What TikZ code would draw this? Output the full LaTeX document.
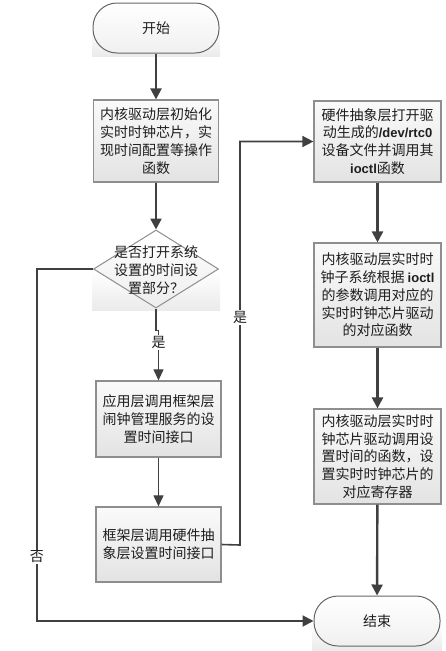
\documentclass[tikz,border=0pt]{standalone}
\usepackage{fontspec}
\newfontfamily\cjk{Noto Sans CJK SC}
\newfontfamily\latb{Liberation Sans}
\usetikzlibrary{shapes.geometric,arrows.meta}
\definecolor{lineC}{HTML}{404040}
\definecolor{borderC}{HTML}{8E8E8E}
\definecolor{txtC}{HTML}{1E1E1E}
\newcommand{\lb}[1]{{\latb\bfseries\fontsize{13}{17.8}\selectfont #1}}
\tikzset{
  basefont/.style={font=\cjk\fontsize{14}{17.8}\selectfont, text=txtC},
  procbox/.style={basefont, draw=borderC, line width=1.2pt, top color=gray!4, bottom color=gray!22,
    minimum width=125pt, inner sep=0pt, align=center},
  termbox/.style={basefont, draw=lineC!80, line width=1pt, top color=white, bottom color=gray!12,
    rounded corners=24pt, minimum width=126pt, minimum height=50pt, inner sep=0pt},
  decbox/.style={diamond, draw=borderC, line width=1pt, top color=white, bottom color=gray!14,
    minimum width=125pt, minimum height=78pt, inner sep=0pt},
  bgshade/.style={top color=white, bottom color=gray!16, middle color=white},
  thickarrow/.style={draw=lineC, line width=2.4pt, -{Triangle[width=11pt,length=11pt]}},
  thinarrow/.style={draw=lineC, line width=1pt, -{Triangle[width=10pt,length=11pt]}},
  midarrow/.style={draw=lineC, line width=1.6pt, -{Triangle[width=11pt,length=11pt]}},
  lbl/.style={basefont, fill=white, inner sep=1pt},
}
\begin{document}
\begin{tikzpicture}[x=1pt,y=-1pt]
\useasboundingbox (0,0) rectangle (445,651);
% faint background bands behind terminals and diamond
\fill[bgshade] (92,4) rectangle (220,56);
\fill[bgshade] (92,232) rectangle (220,310);
\fill[bgshade] (312,596) rectangle (442,650);

\node[termbox] (start) at (156,28) {开始};
\node[procbox, minimum height=82pt] (b1) at (156,141)
  {内核驱动层初始化\\实时时钟芯片，实\\现时间配置等操作\\函数};
\node[decbox] (dia) at (156,269) {};
\node[basefont, align=center, inner sep=0pt] (diat) at (156,270)
  {是否打开系统\\设置的时间设\\置部分？};
\node[procbox, minimum height=76pt] (b2) at (158.5,419)
  {应用层调用框架层\\闹钟管理服务的设\\置时间接口};
\node[procbox, minimum height=75pt] (b3) at (158.5,544.5)
  {框架层调用硬件抽\\象层设置时间接口};

\node[procbox, minimum height=81pt, minimum width=127pt] (b4) at (377.5,141.5)
  {硬件抽象层打开驱\\动生成的\lb{/dev/rtc0}\\设备文件并调用其\\\lb{ioctl}函数};
\node[procbox, minimum height=104pt, minimum width=127pt] (b5) at (377.5,295)
  {内核驱动层实时时\\钟子系统根据 \lb{ioctl}\\的参数调用对应的\\实时时钟芯片驱动\\的对应函数};
\node[procbox, minimum height=95pt, minimum width=127pt] (b6) at (377.5,456.5)
  {内核驱动层实时时\\钟芯片驱动调用设\\置时间的函数，设\\置实时时钟芯片的\\对应寄存器};
\node[termbox] (end) at (377,621) {结束};

\coordinate (rup) at (240,545);
\coordinate (nodown) at (37,269);

\draw[thickarrow] (start) -- (b1);
\draw[thickarrow] (b1) -- (dia);
\draw[draw=lineC, line width=1.8pt] (dia.south) -- ++(0,22) coordinate (jog);
\draw[thinarrow] (jog) -| (b2.north) node[lbl, pos=0.62] {是};
\draw[thinarrow] (b2) -- (b3);
\draw[midarrow] (b3.east) -- (rup) |- (b4.west) node[lbl, pos=0.282] {是};
\draw[thickarrow] (b4) -- (b5);
\draw[thickarrow] (b5) -- (b6);
\draw[thickarrow] (b6) -- (end);
\draw[line width=2pt, draw=lineC, -{Triangle[width=11pt,length=11pt]}]
  (dia.west) -- (nodown) |- (end.west) node[lbl, pos=0.409] {否};
\end{tikzpicture}
\end{document}
